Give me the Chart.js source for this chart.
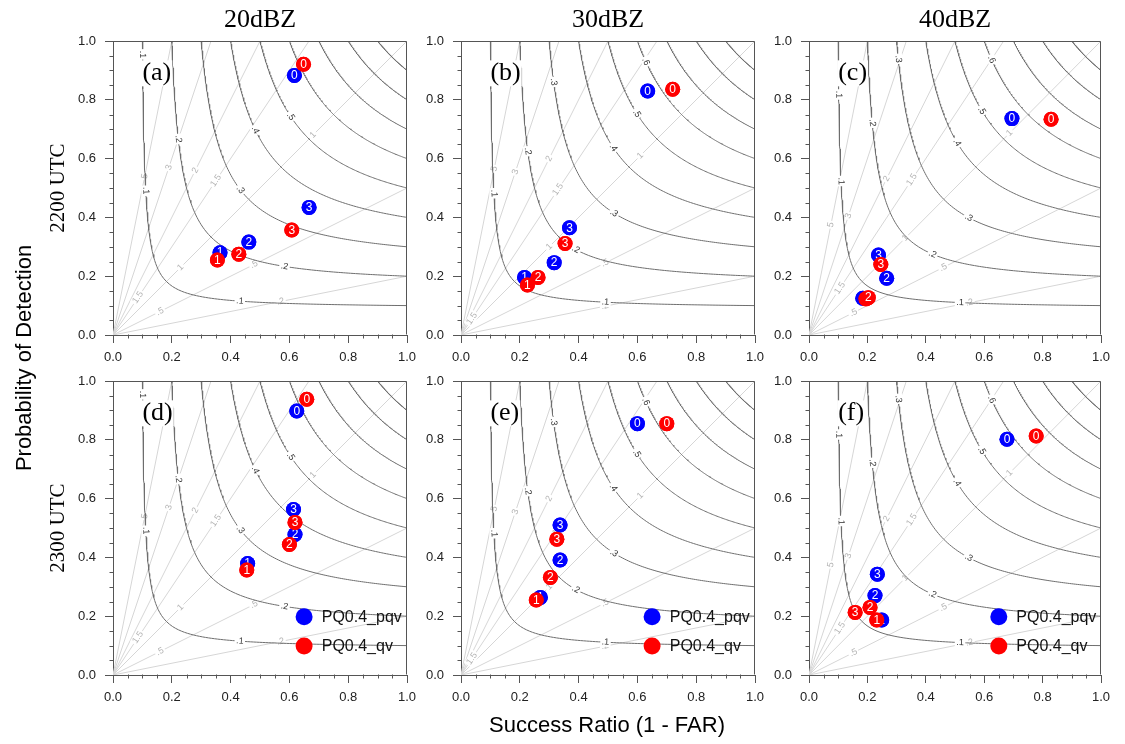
<!DOCTYPE html>
<html>
<head>
<meta charset="utf-8">
<script src="https://cdn.jsdelivr.net/npm/chart.js@4.4.1/dist/chart.umd.min.js"></script>
<style>
  body { margin: 0; background: #fff; width: 1125px; height: 744px; position: relative; overflow: hidden; }
  canvas { position: absolute; }
  .t { position: absolute; white-space: nowrap; color: #000; line-height: 1; }
</style>
</head>
<body>
<script>
// text
const leadLabels = ['0', '1', '2', '3'];
const colTitles = ['20dBZ', '30dBZ', '40dBZ'];
const rowTitles = ['2200 UTC', '2300 UTC'];
const panelTags = ['(a)', '(b)', '(c)', '(d)', '(e)', '(f)'];
const legendNames = ['PQ0.4_pqv', 'PQ0.4_qv'];
const axisTicks = [0, 0.2, 0.4, 0.6, 0.8, 1.0];

// background isolines
const csiLevels = [0.1, 0.2, 0.3, 0.4, 0.5, 0.6, 0.7, 0.8, 0.9];
const biasLevels = [0.2, 0.5, 1, 1.5, 2, 3, 5];

// success ratio (x) and POD (y), index = lead hour 0..3
const srPqvA = [0.617, 0.364, 0.462, 0.667];
const podPqvA = [0.883, 0.280, 0.316, 0.434];
const srQvA = [0.648, 0.355, 0.428, 0.608];
const podQvA = [0.921, 0.255, 0.275, 0.357];

const srPqvB = [0.635, 0.216, 0.317, 0.369];
const podPqvB = [0.830, 0.196, 0.246, 0.365];
const srQvB = [0.720, 0.226, 0.262, 0.354];
const podQvB = [0.836, 0.170, 0.196, 0.311];

const srPqvC = [0.695, 0.184, 0.266, 0.238];
const podPqvC = [0.736, 0.125, 0.193, 0.272];
const srQvC = [0.829, 0.195, 0.203, 0.246];
const podQvC = [0.734, 0.123, 0.127, 0.240];

const srPqvD = [0.625, 0.458, 0.619, 0.614];
const podPqvD = [0.898, 0.379, 0.478, 0.563];
const srQvD = [0.659, 0.455, 0.600, 0.619];
const podQvD = [0.938, 0.357, 0.444, 0.519];

const srPqvE = [0.600, 0.270, 0.337, 0.337];
const podPqvE = [0.855, 0.264, 0.391, 0.510];
const srQvE = [0.700, 0.256, 0.304, 0.326];
const podQvE = [0.855, 0.255, 0.332, 0.462];

const srPqvF = [0.678, 0.249, 0.226, 0.234];
const podPqvF = [0.802, 0.187, 0.270, 0.343];
const srQvF = [0.778, 0.232, 0.209, 0.158];
const podQvF = [0.813, 0.187, 0.230, 0.213];

// contour label spots per column: [csi level, bias ray through label]
const csiTagSpots = [
  [[0.1, 9.5], [0.1, 4.4], [0.1, 0.267], [0.2, 3.0], [0.2, 0.40], [0.3, 1.14], [0.4, 1.44], [0.5, 1.23]],
  [[0.1, 4.3], [0.1, 0.227], [0.2, 2.75], [0.2, 0.745], [0.3, 2.73], [0.3, 0.797], [0.4, 1.23], [0.5, 1.26], [0.6, 1.48]],
  [[0.1, 8], [0.1, 4.76], [0.1, 0.213], [0.2, 3.33], [0.2, 0.65], [0.3, 3.07], [0.3, 0.73], [0.4, 1.29], [0.5, 1.29], [0.6, 1.5]]
];
// bias label spots per column: [bias, success ratio]
const biasTagSpots = [
  [[5, 0.108], [3, 0.19], [2, 0.28], [1.5, 0.35], [1, 0.68], [0.5, 0.48], [0.2, 0.57], [1.5, 0.085], [0.5, 0.16], [1, 0.23]],
  [[5, 0.113], [3, 0.185], [2, 0.30], [1.5, 0.33], [1, 0.61], [1, 0.30], [0.5, 0.49], [0.2, 0.49], [1.5, 0.037]],
  [[5, 0.075], [3, 0.135], [2, 0.266], [1.5, 0.352], [1, 0.687], [1, 0.33], [0.5, 0.46], [1.5, 0.106], [0.5, 0.152], [0.2, 0.55]]
];

const panels = [
  { col: 0, row: 0, sr: [srPqvA, srQvA], pod: [podPqvA, podQvA] },
  { col: 1, row: 0, sr: [srPqvB, srQvB], pod: [podPqvB, podQvB] },
  { col: 2, row: 0, sr: [srPqvC, srQvC], pod: [podPqvC, podQvC] },
  { col: 0, row: 1, sr: [srPqvD, srQvD], pod: [podPqvD, podQvD] },
  { col: 1, row: 1, sr: [srPqvE, srQvE], pod: [podPqvE, podQvE] },
  { col: 2, row: 1, sr: [srPqvF, srQvF], pod: [podPqvF, podQvF] }
];

const SANS = "'Liberation Sans', Arial, Helvetica, sans-serif";
const SERIF = "'Liberation Serif', 'Times New Roman', serif";
const colLeft = [113, 461, 809], colWidth = [294, 294, 292];
const rowTop = [41, 381], plotH = 294;
const PAD_L = 60, PAD_T = 22, PAD_R = 22, PAD_B = 40;
const AXIS = '#555';

function csiCurve(c) {
  const pts = [];
  const mid = 2 * c / (1 + c);
  for (let i = 0; i <= 80; i++) {
    const pod = 1 - (1 - mid) * i / 80;
    pts.push({ x: 1 / (1 / c + 1 - 1 / pod), y: pod });
  }
  for (let i = 1; i <= 80; i++) {
    const sr = mid + (1 - mid) * i / 80;
    pts.push({ x: sr, y: 1 / (1 / c + 1 - 1 / sr) });
  }
  return pts;
}

function csiPoints() {
  let out = [];
  csiLevels.forEach(c => { out = out.concat(csiCurve(c)); out.push({ x: null, y: null }); });
  return out;
}

function biasPoints() {
  let out = [];
  biasLevels.forEach(b => {
    out.push({ x: 0, y: 0 });
    out.push(b <= 1 ? { x: 1, y: b } : { x: 1 / b, y: 1 });
    out.push({ x: null, y: null });
  });
  return out;
}

function fmtLevel(v) {
  return v < 1 ? '.' + Math.round(v * 10) : String(v);
}

function lineTag(ctx, x, y, ang, txt, color) {
  ctx.save();
  ctx.translate(x, y);
  ctx.rotate(ang);
  ctx.font = '9px ' + SANS;
  const w = ctx.measureText(txt).width;
  ctx.fillStyle = '#fff';
  ctx.fillRect(-w / 2 - 1.5, -4.5, w + 3, 9);
  ctx.fillStyle = color;
  ctx.textAlign = 'center';
  ctx.textBaseline = 'middle';
  ctx.fillText(txt, 0, 0);
  ctx.restore();
}

const perfPlugin = {
  id: 'perf',
  afterDatasetDraw(chart, args) {
    const ds = chart.data.datasets[args.index];
    const ctx = chart.ctx;
    const xs = chart.scales.x, ys = chart.scales.y;
    const ppx = xs.getPixelForValue(1) - xs.getPixelForValue(0);
    const ppy = ys.getPixelForValue(0) - ys.getPixelForValue(1);
    const col = chart.options.plugins.perf.col;
    if (ds.role === 'bias') {
      biasTagSpots[col].forEach(([b, sr]) => {
        const ang = Math.atan2(-b * ppy, ppx);
        lineTag(ctx, xs.getPixelForValue(sr), ys.getPixelForValue(b * sr), ang, fmtLevel(b), '#b4b4b4');
      });
    }
    if (ds.role === 'csi') {
      csiTagSpots[col].forEach(([c, b]) => {
        const sr = (1 + 1 / b) / (1 / c + 1);
        const pod = b * sr;
        const ang = Math.atan2(ppy * pod * pod / (sr * sr), ppx);
        lineTag(ctx, xs.getPixelForValue(sr), ys.getPixelForValue(pod), ang, fmtLevel(c), '#333');
      });
    }
    if (ds.role === 'marks') {
      ctx.save();
      ctx.font = '12px ' + SANS;
      ctx.textAlign = 'center';
      ctx.textBaseline = 'middle';
      args.meta.data.forEach((el, k) => {
        el.draw(ctx, chart.chartArea);
        ctx.fillStyle = '#fff';
        ctx.fillText(leadLabels[k], el.x, el.y + 0.5);
      });
      ctx.restore();
    }
    if (ds.role === 'legend') {
      ctx.save();
      ctx.font = '16px ' + SANS;
      ctx.textBaseline = 'middle';
      ctx.fillStyle = '#111';
      args.meta.data.forEach((el, k) => {
        ctx.fillText(legendNames[k], xs.getPixelForValue(0.71), el.y + 1);
      });
      ctx.restore();
    }
  },
  afterDraw(chart) {
    const ctx = chart.ctx;
    const a = chart.chartArea;
    const xs = chart.scales.x, ys = chart.scales.y;
    const L = Math.round(a.left) + 0.5, R = Math.round(a.right) - 0.5;
    const T = Math.round(a.top) + 0.5, B = Math.round(a.bottom) - 0.5;
    ctx.save();
    ctx.strokeStyle = AXIS;
    ctx.lineWidth = 1;
    ctx.beginPath();
    ctx.moveTo(L, T); ctx.lineTo(R, T); ctx.lineTo(R, B);
    for (let i = 1; i < 20; i++) {
      if (i % 4 === 0) continue;
      const v = i * 0.05;
      const px = Math.round(xs.getPixelForValue(v)) + 0.5;
      ctx.moveTo(px, B); ctx.lineTo(px, B + 4);
      const py = Math.round(ys.getPixelForValue(v)) + 0.5;
      ctx.moveTo(L, py); ctx.lineTo(L - 4, py);
    }
    ctx.stroke();
    // panel tag
    const tag = panelTags[chart.options.plugins.perf.idx];
    ctx.font = '26px ' + SERIF;
    ctx.textBaseline = 'middle';
    const tx = xs.getPixelForValue(0.1), ty = ys.getPixelForValue(0.89);
    const tw = ctx.measureText(tag).width;
    ctx.fillStyle = '#fff';
    ctx.fillRect(tx - 1, ty - 13, tw + 2, 26);
    ctx.fillStyle = '#000';
    ctx.fillText(tag, tx, ty);
    ctx.restore();
  }
};

function pts(sr, pod) {
  return sr.map((v, i) => ({ x: v, y: pod[i] }));
}

function makePanel(p, idx) {
  const w = colWidth[p.col];
  const cv = document.createElement('canvas');
  cv.width = PAD_L + w + PAD_R;
  cv.height = PAD_T + plotH + PAD_B;
  cv.style.left = (colLeft[p.col] - PAD_L) + 'px';
  cv.style.top = (rowTop[p.row] - PAD_T) + 'px';
  document.body.appendChild(cv);

  const datasets = [
    { role: 'bias', data: biasPoints(), showLine: true, borderColor: '#d6d6d6', borderWidth: 1, pointRadius: 0, order: 6 },
    { role: 'csi', data: csiPoints(), showLine: true, borderColor: '#6e6e6e', borderWidth: 1, pointRadius: 0, order: 5 },
    { role: 'marks', data: pts(p.sr[0], p.pod[0]), pointBackgroundColor: '#0000ff', pointBorderWidth: 0, pointRadius: 7.5, order: 2 },
    { role: 'marks', data: pts(p.sr[1], p.pod[1]), pointBackgroundColor: '#ff0000', pointBorderWidth: 0, pointRadius: 7.5, order: 1 }
  ];
  if (p.row === 1) {
    datasets.push({
      role: 'legend', data: [{ x: 0.65, y: 0.198 }, { x: 0.65, y: 0.099 }],
      pointBackgroundColor: ['#0000ff', '#ff0000'], pointBorderWidth: 0, pointRadius: 8.5, order: 0
    });
  }

  const tickFont = { family: SANS, size: 13 };
  new Chart(cv, {
    type: 'scatter',
    data: { datasets },
    options: {
      responsive: false,
      animation: false,
      devicePixelRatio: 1,
      events: [],
      layout: { padding: { top: PAD_T, right: PAD_R, left: 0, bottom: 0 } },
      elements: { line: { tension: 0 } },
      plugins: { legend: { display: false }, tooltip: { enabled: false }, perf: { col: p.col, idx } },
      scales: {
        x: {
          type: 'linear', min: 0, max: 1,
          afterFit: s => { s.height = PAD_B; },
          afterBuildTicks: s => { s.ticks = axisTicks.map(v => ({ value: v })); },
          ticks: { autoSkip: false, maxRotation: 0, padding: 7, color: '#222', font: tickFont, callback: v => Number(v).toFixed(1) },
          grid: { drawOnChartArea: false, drawTicks: true, tickLength: 8, color: AXIS, lineWidth: 1 },
          border: { display: true, color: AXIS, width: 1 }
        },
        y: {
          type: 'linear', min: 0, max: 1,
          afterFit: s => { s.width = PAD_L; },
          afterBuildTicks: s => { s.ticks = axisTicks.map(v => ({ value: v })); },
          ticks: { autoSkip: false, padding: 9, color: '#222', font: tickFont, callback: v => Number(v).toFixed(1) },
          grid: { drawOnChartArea: false, drawTicks: true, tickLength: 8, color: AXIS, lineWidth: 1 },
          border: { display: true, color: AXIS, width: 1 }
        }
      }
    },
    plugins: [perfPlugin]
  });
}

function place(txt, family, size, cx, cy, rot) {
  const d = document.createElement('div');
  d.className = 't';
  d.textContent = txt;
  d.style.fontFamily = family;
  d.style.fontSize = size + 'px';
  d.style.left = cx + 'px';
  d.style.top = cy + 'px';
  d.style.transform = 'translate(-50%,-50%)' + (rot ? ' rotate(-90deg)' : '');
  document.body.appendChild(d);
}

panels.forEach(makePanel);

colTitles.forEach((t, i) => place(t, SERIF, 26, colLeft[i] + colWidth[i] / 2, 19, false));
rowTitles.forEach((t, i) => place(t, SERIF, 21, 57, rowTop[i] + plotH / 2, true));
place('Probability of Detection', SANS, 22, 24, 358, true);
place('Success Ratio (1 - FAR)', SANS, 22, 607, 725, false);
</script>
</body>
</html>
